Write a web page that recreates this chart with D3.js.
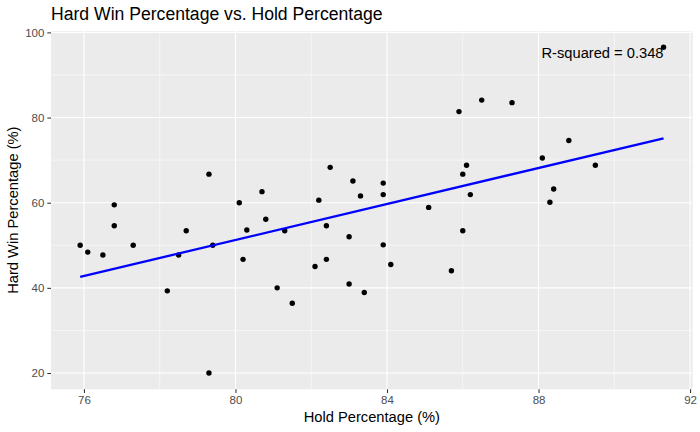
<!DOCTYPE html>
<html>
<head>
<meta charset="utf-8">
<script src="https://cdn.jsdelivr.net/npm/d3@7"></script>
<style>
  body { margin: 0; background: #fff; }
  text { font-family: "Liberation Sans", Arial, sans-serif; }
</style>
</head>
<body>
<div id="chart"></div>
<script>
const WIDTH = 700;
const HEIGHT = 432;
const PANEL = { LEFT: 51, RIGHT: 692.7, TOP: 31, BOTTOM: 389.3 };

// data
const holdPct = [
  75.9, 76.1, 76.5, 76.8, 76.8, 77.3, 78.2, 78.5, 78.7, 79.3,
  79.3, 79.4, 80.1, 80.2, 80.3, 80.7, 80.8, 81.1, 81.3, 81.5,
  82.1, 82.2, 82.4, 82.4, 82.5, 83.0, 83.0, 83.1, 83.3, 83.4,
  83.9, 83.9, 83.9, 84.1, 85.1, 85.7, 85.9, 86.0, 86.0, 86.1,
  86.2, 86.5, 87.3, 88.1, 88.3, 88.4, 88.8, 89.5, 91.3
];
const hardWinPct = [
  50.0, 48.4, 47.7, 59.5, 54.6, 50.0, 39.3, 47.7, 53.4, 66.7,
  20.0, 50.0, 60.0, 46.7, 53.6, 62.6, 56.1, 40.0, 53.4, 36.4,
  45.0, 60.6, 54.6, 46.7, 68.3, 52.0, 40.9, 65.1, 61.6, 38.9,
  64.6, 61.9, 50.1, 45.5, 58.9, 44.0, 81.4, 66.7, 53.4, 68.8,
  61.9, 84.1, 83.5, 70.5, 60.1, 63.2, 74.6, 68.8, 96.5
];
const xTicks = [76, 80, 84, 88, 92];
const xMinorTicks = [78, 82, 86, 90];
const yTicks = [20, 40, 60, 80, 100];
const yMinorTicks = [30, 50, 70, 90];
const rSquaredLabel = 'R-squared = 0.348';

const svg = d3.select('#chart')
  .append('svg')
  .attr('width', WIDTH)
  .attr('height', HEIGHT);

// ggplot style 5% expansion
function expand(ext) {
  const pad = (ext[1] - ext[0]) * 0.05;
  return [ext[0] - pad, ext[1] + pad];
}

const xScale = d3.scaleLinear().domain(expand(d3.extent(holdPct))).range([PANEL.LEFT, PANEL.RIGHT]);
const yScale = d3.scaleLinear().domain(expand(d3.extent(hardWinPct))).range([PANEL.BOTTOM, PANEL.TOP]);

// panel
svg.append('rect')
  .attr('x', PANEL.LEFT)
  .attr('y', PANEL.TOP)
  .attr('width', PANEL.RIGHT - PANEL.LEFT)
  .attr('height', PANEL.BOTTOM - PANEL.TOP)
  .attr('fill', '#EBEBEB');

// grid
const grid = svg.append('g');
grid.selectAll('.xminor').data(xMinorTicks).enter().append('line')
  .attr('x1', d => xScale(d)).attr('x2', d => xScale(d))
  .attr('y1', PANEL.TOP).attr('y2', PANEL.BOTTOM)
  .attr('stroke', '#fff').attr('stroke-width', 0.55);
grid.selectAll('.yminor').data(yMinorTicks).enter().append('line')
  .attr('y1', d => yScale(d)).attr('y2', d => yScale(d))
  .attr('x1', PANEL.LEFT).attr('x2', PANEL.RIGHT)
  .attr('stroke', '#fff').attr('stroke-width', 0.55);
grid.selectAll('.xmajor').data(xTicks).enter().append('line')
  .attr('x1', d => xScale(d)).attr('x2', d => xScale(d))
  .attr('y1', PANEL.TOP).attr('y2', PANEL.BOTTOM)
  .attr('stroke', '#fff').attr('stroke-width', 1.1);
grid.selectAll('.ymajor').data(yTicks).enter().append('line')
  .attr('y1', d => yScale(d)).attr('y2', d => yScale(d))
  .attr('x1', PANEL.LEFT).attr('x2', PANEL.RIGHT)
  .attr('stroke', '#fff').attr('stroke-width', 1.1);

// axes
const xAxis = d3.axisBottom(xScale).tickValues(xTicks).tickSize(3.7).tickPadding(3);
const yAxis = d3.axisLeft(yScale).tickValues(yTicks).tickSize(3.7).tickPadding(3);

const gx = svg.append('g')
  .attr('transform', `translate(0, ${PANEL.BOTTOM})`)
  .call(xAxis);
const gy = svg.append('g')
  .attr('transform', `translate(${PANEL.LEFT}, 0)`)
  .call(yAxis);

[gx, gy].forEach(g => {
  g.select('.domain').remove();
  g.selectAll('.tick line').attr('stroke', '#333').attr('stroke-width', 1.07);
  g.selectAll('.tick text')
    .attr('fill', '#4D4D4D')
    .style('font-size', '11.5px')
    .style('font-family', '"Liberation Sans", Arial, sans-serif');
});

// points
svg.append('g')
  .selectAll('circle')
  .data(holdPct)
  .enter()
  .append('circle')
  .attr('cx', d => xScale(d))
  .attr('cy', (d, i) => yScale(hardWinPct[i]))
  .attr('r', 2.7)
  .attr('fill', '#000');

// least squares fit line
const mx = d3.mean(holdPct);
const my = d3.mean(hardWinPct);
const sxy = d3.sum(holdPct, (d, i) => (d - mx) * (hardWinPct[i] - my));
const sxx = d3.sum(holdPct, d => (d - mx) * (d - mx));
const slope = sxy / sxx;
const intercept = my - slope * mx;
const fitX = d3.extent(holdPct);

svg.append('path')
  .datum(fitX)
  .attr('d', d3.line().x(d => xScale(d)).y(d => yScale(intercept + slope * d)))
  .attr('stroke', '#0000FF')
  .attr('stroke-width', 2.3)
  .attr('fill', 'none');

// r squared annotation
svg.append('text')
  .attr('x', xScale(d3.max(holdPct)))
  .attr('y', yScale(d3.max(hardWinPct)) + 11)
  .attr('text-anchor', 'end')
  .style('font-size', '14.7px')
  .attr('fill', '#000')
  .text(rSquaredLabel);

// titles
svg.append('text')
  .attr('x', PANEL.LEFT)
  .attr('y', 20)
  .style('font-size', '17.6px')
  .attr('fill', '#000')
  .text('Hard Win Percentage vs. Hold Percentage');

svg.append('text')
  .attr('x', (PANEL.LEFT + PANEL.RIGHT) / 2)
  .attr('y', 422)
  .attr('text-anchor', 'middle')
  .style('font-size', '14.7px')
  .attr('fill', '#000')
  .text('Hold Percentage (%)');

svg.append('text')
  .attr('transform', `translate(18, ${(PANEL.TOP + PANEL.BOTTOM) / 2}) rotate(-90)`)
  .attr('text-anchor', 'middle')
  .style('font-size', '14.7px')
  .attr('fill', '#000')
  .text('Hard Win Percentage (%)');
</script>
</body>
</html>
